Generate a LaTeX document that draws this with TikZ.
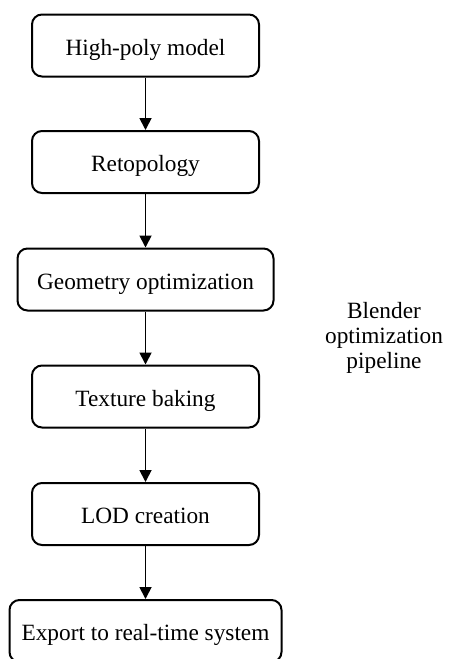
\documentclass[tikz,border=0pt]{standalone}
\usepackage{fontspec}
\setmainfont{Liberation Serif}
\usetikzlibrary{arrows.meta}
\tikzset{
  stepbox/.style={draw=black, line width=2pt, rounded corners=10pt,
    minimum height=62pt, inner sep=0pt, align=center,
    text height=20pt, text depth=1pt,
    font=\fontsize{23.3pt}{25pt}\selectfont},
  flowarrow/.style={line width=1.8pt, -{Triangle[length=12pt,width=12pt]}},
  sidelabel/.style={inner sep=0pt, align=center, anchor=north,
    font=\fontsize{23.3pt}{25pt}\selectfont}
}
\begin{document}
\begin{tikzpicture}[x=1pt,y=-1pt]
\useasboundingbox (0,0) rectangle (448,659);
\clip (0,0) rectangle (448,659);
\fill[white] (0,0) rectangle (448,659);
\node[stepbox, minimum width=227pt] (b1) at (145.5,45.5) {High-poly model};
\node[stepbox, minimum width=227pt] (b2) at (145.5,162) {Retopology};
\node[stepbox, minimum width=256pt] (b3) at (145.5,279.5) {Geometry optimization};
\node[stepbox, minimum width=227pt] (b4) at (145.5,396.5) {Texture baking};
\node[stepbox, minimum width=227pt] (b5) at (145.5,514) {LOD creation};
\node[stepbox, minimum width=272pt] (b6) at (145.5,631) {Export to real-time system};
\draw[flowarrow] (b1) -- (b2);
\draw[flowarrow] (b2) -- (b3);
\draw[flowarrow] (b3) -- (b4);
\draw[flowarrow] (b4) -- (b5);
\draw[flowarrow] (b5) -- (b6);
\node[sidelabel] (lbl) at (384,302) {Blender\\optimization\\pipeline};
\end{tikzpicture}
\end{document}
